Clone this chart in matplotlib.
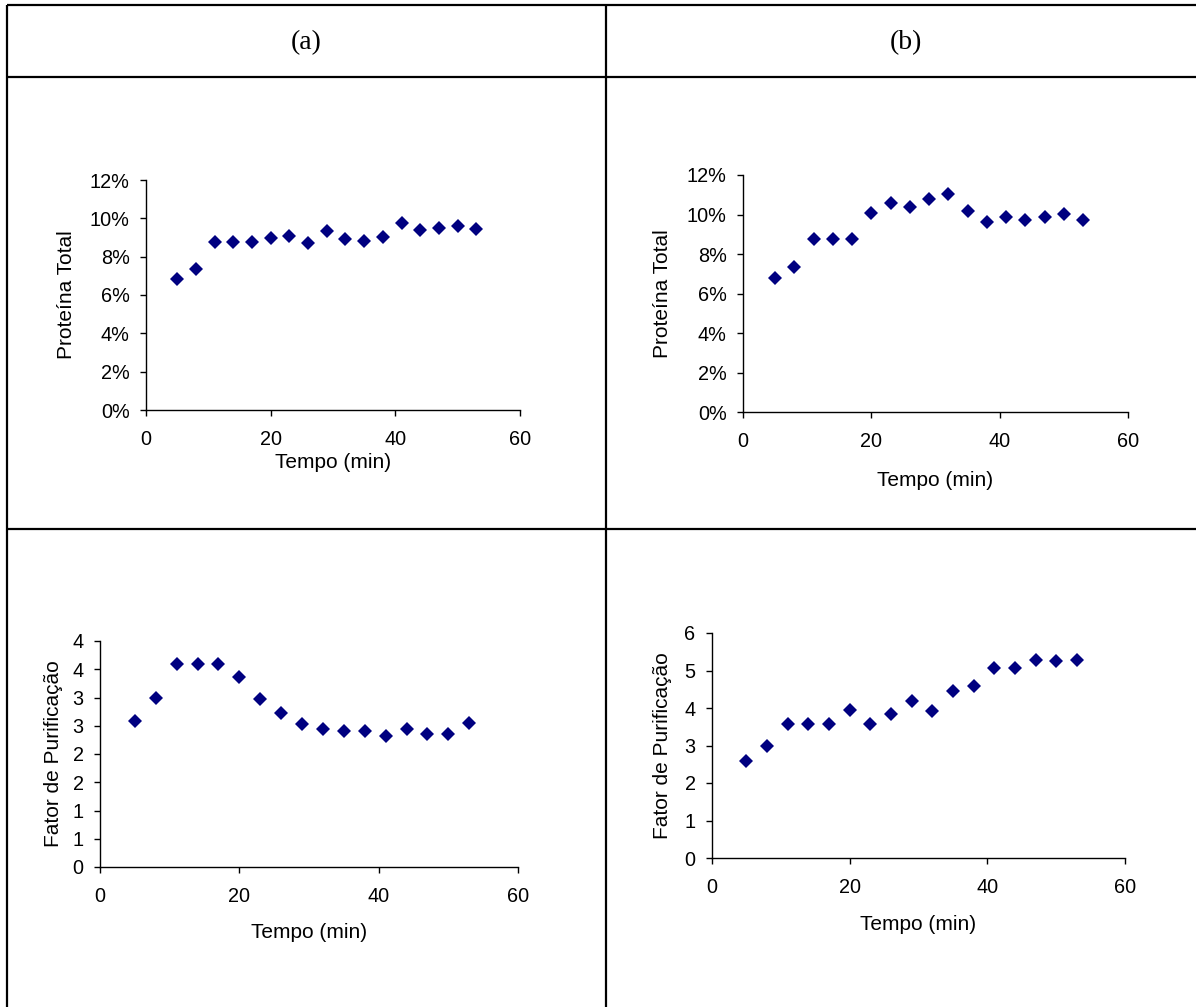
import matplotlib.pyplot as plt
from matplotlib.ticker import PercentFormatter, FuncFormatter, MultipleLocator
import numpy as np

# Dados
tempo = [5, 8, 11, 14, 17, 20, 23, 26, 29, 32, 35, 38, 41, 44, 47, 50, 53]

proteina_a = [0.0683, 0.0736, 0.0878, 0.0878, 0.0878, 0.0896, 0.0908, 0.0870, 0.0936,
              0.0890, 0.0882, 0.0904, 0.0974, 0.0939, 0.0951, 0.0962, 0.0943]
proteina_b = [0.0681, 0.0733, 0.0875, 0.0875, 0.0875, 0.1006, 0.1060, 0.1036, 0.1080,
              0.1102, 0.1019, 0.0964, 0.0985, 0.0970, 0.0987, 0.1004, 0.0970]
fator_a = [2.59, 3.00, 3.59, 3.59, 3.59, 3.37, 2.97, 2.73, 2.53, 2.45, 2.40, 2.41,
           2.32, 2.45, 2.35, 2.35, 2.55]
fator_b = [2.58, 3.00, 3.58, 3.58, 3.58, 3.96, 3.58, 3.84, 4.19, 3.92, 4.46, 4.58,
           5.07, 5.07, 5.28, 5.26, 5.29]

titulos = ["(a)", "(b)"]

W, H = 1196, 1007
plt.rcParams['font.family'] = ['Liberation Sans', 'DejaVu Sans']
fig = plt.figure(figsize=(W / 100, H / 100), dpi=100)

# Moldura da tabela (coordenadas em pixels)
bg = fig.add_axes([0, 0, 1, 1])
bg.set_xlim(0, W)
bg.set_ylim(H, 0)
bg.axis('off')
for y in [5, 77, 529]:
    bg.plot([7, W], [y, y], color='black', linewidth=1.6, solid_capstyle='butt')
for x in [7, 606]:
    bg.plot([x, x], [5, H], color='black', linewidth=1.6, solid_capstyle='butt')
bg.text(306, 43, titulos[0], ha='center', va='center', fontsize=20, family='Liberation Serif')
bg.text(906, 43, titulos[1], ha='center', va='center', fontsize=20, family='Liberation Serif')


def painel(caixa, y, ymax, ystep, ylabel, fmt, xlab_y, ylab_x):
    # caixa = (esquerda, direita, topo, base) em pixels
    l, r, t, b = caixa
    ax = fig.add_axes([l / W, 1 - b / H, (r - l) / W, (b - t) / H])
    ax.plot(tempo, y, linestyle='none', marker='D', markersize=7.3,
            color='#000080', markeredgewidth=0)
    ax.set_xlim(0, 60)
    ax.set_ylim(0, ymax)
    ax.xaxis.set_major_locator(MultipleLocator(20))
    ax.yaxis.set_major_locator(MultipleLocator(ystep))
    ax.yaxis.set_major_formatter(fmt)
    for s in ['top', 'right']:
        ax.spines[s].set_visible(False)
    for s in ['left', 'bottom']:
        ax.spines[s].set_linewidth(1.0)
    ax.tick_params(axis='both', direction='out', length=4.3, width=1.0, labelsize=14.3)
    ax.tick_params(axis='x', pad=10)
    ax.tick_params(axis='y', pad=7.5)
    ax.patch.set_alpha(0)
    # rótulos dos eixos
    bg.text((l + r) / 2, xlab_y, "Tempo (min)", ha='center', va='center', fontsize=15)
    bg.text(ylab_x, (t + b) / 2, ylabel, ha='center', va='center', rotation=90, fontsize=15)
    return ax


pct = PercentFormatter(xmax=1.0, decimals=0)
inteiro = FuncFormatter(lambda v, pos: f"{int(np.floor(v + 0.5))}")

painel((146, 520, 180, 410), proteina_a, 0.12, 0.02, "Proteína Total", pct, 462, 66)
painel((743, 1128, 175, 412), proteina_b, 0.12, 0.02, "Proteína Total", pct, 480, 663)
painel((100, 518, 641, 867), fator_a, 4, 0.5, "Fator de Purificação", inteiro, 933, 54)
painel((712, 1125, 633, 858), fator_b, 6, 1, "Fator de Purificação", inteiro, 925, 662)

plt.savefig("out.png", dpi=100)
